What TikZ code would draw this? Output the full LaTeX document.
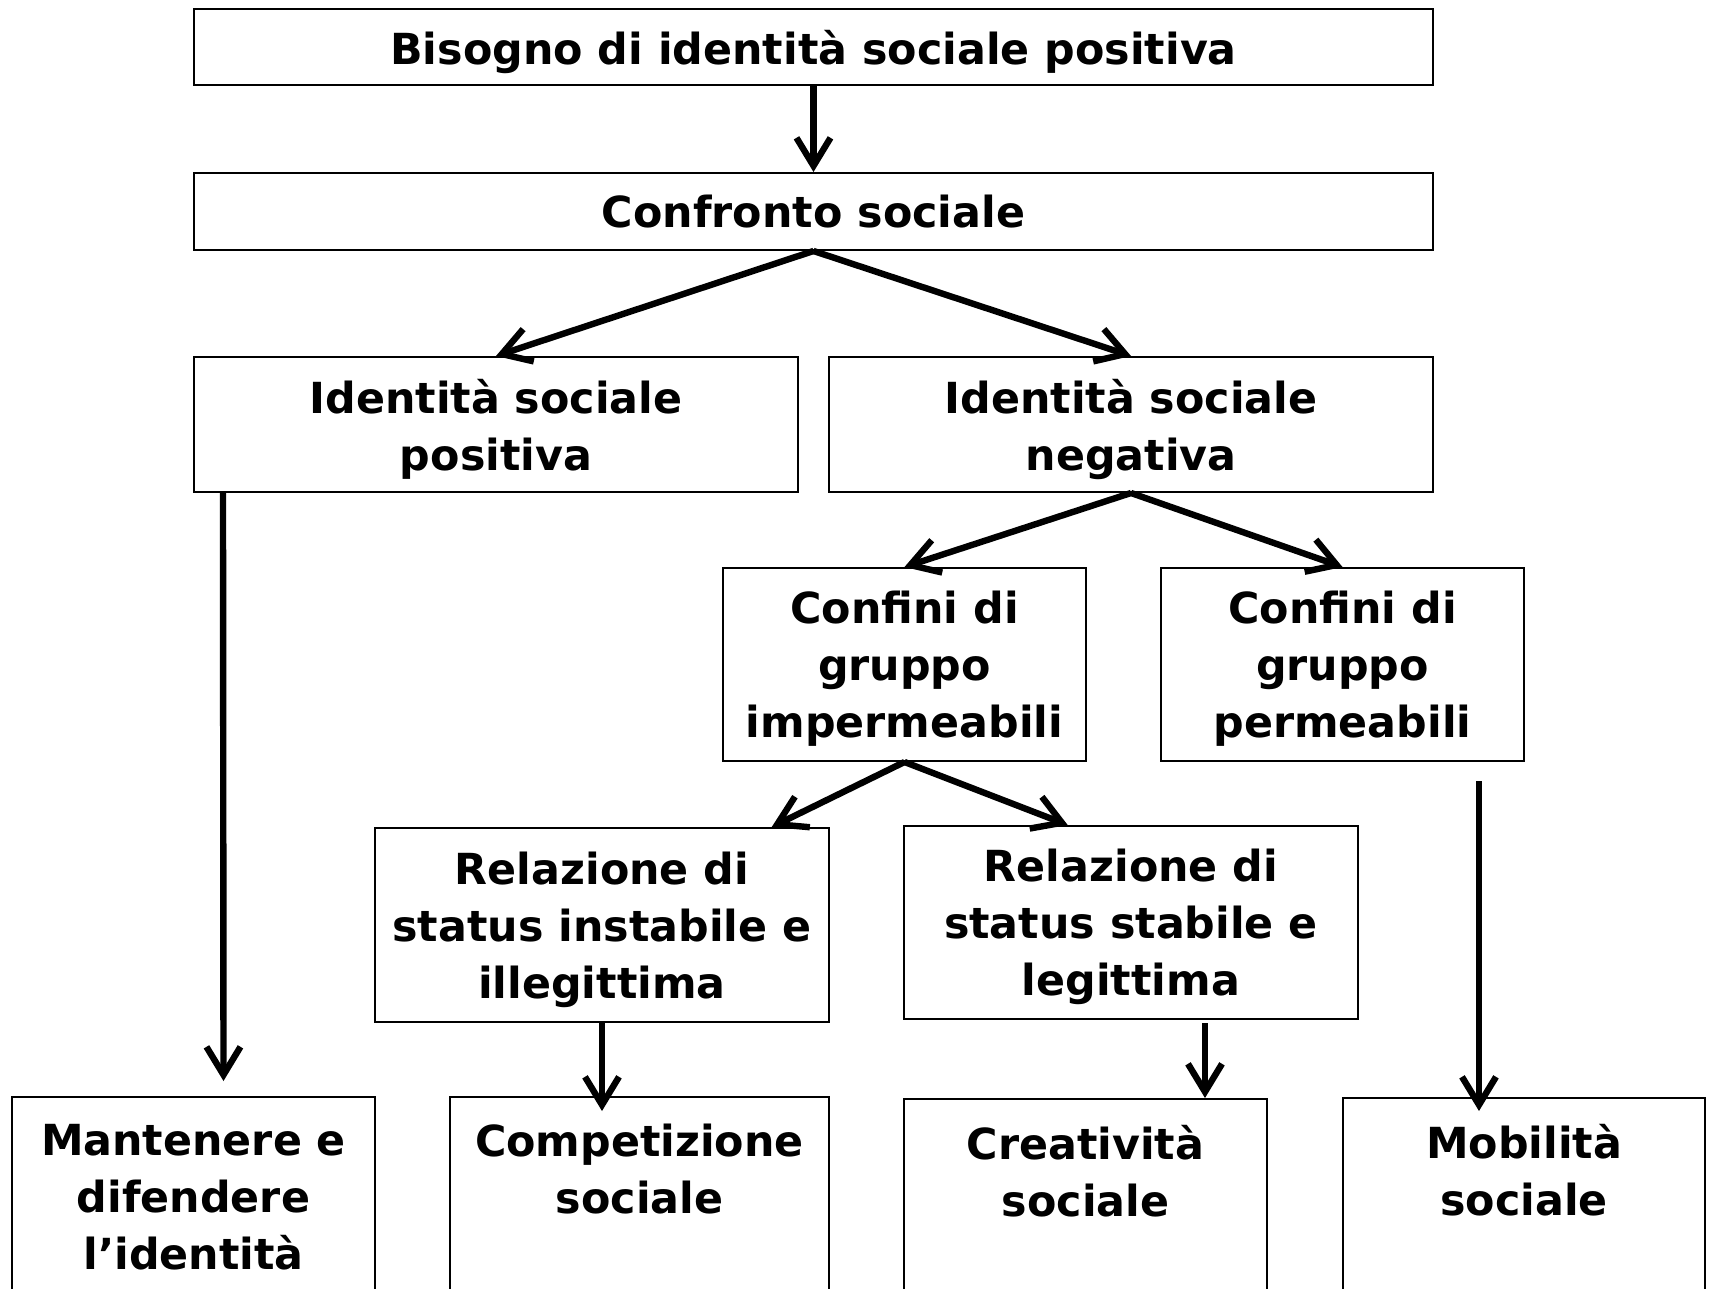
\documentclass[tikz,border=0pt]{standalone}
\usepackage{fontspec}
\setmainfont{DejaVu Sans}
\usetikzlibrary{arrows.meta,calc}
\begin{document}
\begin{tikzpicture}[x=0.5pt,y=-0.5pt,
  box/.style={rectangle, draw=black, fill=white, line width=1pt, align=center, inner sep=0pt, text depth=0pt, font=\fontsize{21.4}{28.5}\selectfont\bfseries},
  arr/.style={line width=3.2pt, -{Straight Barb[length=14pt,width=17pt]}}]
\path [use as bounding box, clip] (0,0) rectangle (1710,1289);
\node [box, minimum width=619.5pt, minimum height=38pt](B) at (813.5,47){Bisogno di identità sociale positiva};
\node [box, minimum width=619.5pt, minimum height=38.5pt](C) at (813.5,211.5){Confronto sociale};
\node [box, minimum width=302pt, minimum height=67.5pt](P) at (496,424.5){Identità sociale\\positiva};
\node [box, minimum width=302pt, minimum height=67.5pt](N) at (1131,424.5){Identità sociale\\negativa};
\node [box, minimum width=181.5pt, minimum height=96.5pt](I) at (904.5,664.5){Confini di\\gruppo\\impermeabili};
\node [box, minimum width=181.5pt, minimum height=96.5pt](Pm) at (1342.5,664.5){Confini di\\gruppo\\permeabili};
\node [box, minimum width=227pt, minimum height=97pt](R1) at (602,925){Relazione di\\status instabile e\\illegittima};
\node [box, minimum width=227pt, minimum height=96.5pt](R2) at (1131,922.5){Relazione di\\status stabile e\\legittima};
\node [box, minimum width=181.5pt, minimum height=100pt](M) at (193.5,1197){Mantenere e\\difendere\\l’identità};
\node [box, minimum width=189.5pt, minimum height=100pt](Co) at (639.5,1197){Competizione\\sociale\\\strut};
\node [box, minimum width=181.5pt, minimum height=100pt](Cr) at (1085.5,1199){Creatività\\sociale\\\strut};
\node [box, minimum width=181pt, minimum height=100pt](Mo) at (1524,1198){Mobilità\\sociale\\\strut};
\coordinate (r2a) at ($(R2.south)+(74,3)$);
\coordinate (pma) at ($(Pm.south)+(136.5,19)$);
\draw [arr](B) -- (C);
\draw [arr](C.south) -- (P.north);
\draw [arr](C.south) -- (N.north);
\draw [arr](N.south) -- (I.north);
\draw [arr](N.south) -- (Pm.north);
\draw [arr](I.south) -- (R1.30);
\draw [arr](I.south) -- (R2.123);
\draw [arr]($(P.south west)+(30,0)$) -- ($(M.north)+(30,-15)$);
\draw [arr](R1.south) -- ($(R1.south |- Co.north)+(0,15)$);
\draw [arr](r2a) -- (r2a |- Cr.north);
\draw [arr](pma) -- ($(pma |- Mo.north)+(0,14)$);
\end{tikzpicture}
\end{document}
